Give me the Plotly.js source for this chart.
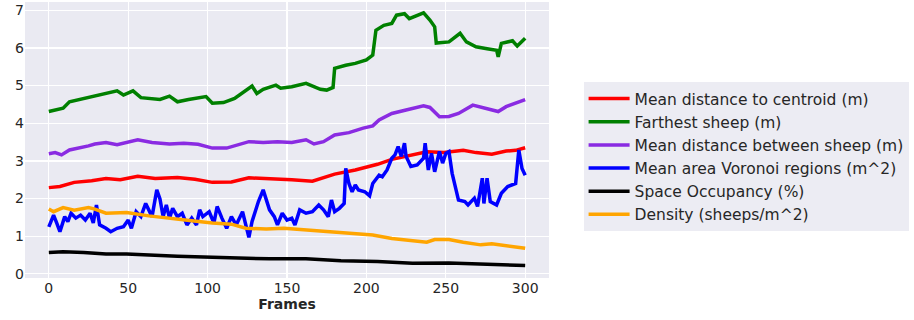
<!DOCTYPE html>
<html>
<head>
<meta charset="utf-8">
<script src="https://cdn.plot.ly/plotly-3.0.1.min.js"></script>
<style>html,body{margin:0;padding:0;background:#fff;}#chart{width:914px;height:320px;}</style>
</head>
<body>
<div id="chart"></div>
<script>
// Series names (legend order)
const seriesNames = [
  "Mean distance to centroid (m)",
  "Farthest sheep (m)",
  "Mean distance between sheep (m)",
  "Mean area Voronoi regions (m^2)",
  "Space Occupancy (%)",
  "Density (sheeps/m^2)"
];
const xTicks = [0, 50, 100, 150, 200, 250, 300];
const yTicks = [0, 1, 2, 3, 4, 5, 6, 7];

// Mean distance to centroid
const framesCentroid = [0,7,16,27,36,45,56,67,81,92,103,115,126,139,153,166,180,193,207,216,227,238,249,261,269,279,288,294,300];
const centroid = [2.29,2.32,2.43,2.47,2.53,2.50,2.59,2.53,2.56,2.51,2.43,2.44,2.55,2.53,2.50,2.46,2.65,2.76,2.91,3.04,3.15,3.24,3.22,3.28,3.22,3.18,3.26,3.28,3.35];

// Farthest sheep
const framesFarthest = [0,9,13,22,29,43,47,53,58,70,76,81,88,94,99,103,110,117,124,128,131,135,143,146,153,162,171,175,179,180,187,193,200,204,206,211,216,219,224,227,236,240,243,244,252,259,263,269,276,282,283,285,292,295,300];
const farthest = [4.31,4.40,4.57,4.66,4.71,4.86,4.75,4.86,4.68,4.63,4.72,4.57,4.63,4.68,4.71,4.53,4.55,4.66,4.88,4.99,4.79,4.90,5.01,4.93,4.97,5.06,4.90,4.88,4.95,5.46,5.54,5.59,5.68,5.81,6.47,6.60,6.65,6.87,6.91,6.78,6.93,6.74,6.56,6.13,6.16,6.39,6.16,6.03,5.98,5.94,5.76,6.12,6.19,6.05,6.26];

// Mean distance between sheep
const framesBetween = [0,4,8,13,25,29,36,43,56,65,76,85,94,103,112,126,135,144,153,162,167,173,180,189,198,204,208,216,225,236,240,246,252,258,267,272,279,283,288,294,300];
const between = [3.19,3.22,3.16,3.29,3.40,3.45,3.49,3.43,3.56,3.49,3.45,3.47,3.44,3.34,3.34,3.51,3.49,3.51,3.49,3.56,3.45,3.51,3.69,3.75,3.87,3.93,4.09,4.26,4.35,4.46,4.42,4.17,4.18,4.26,4.48,4.42,4.35,4.31,4.44,4.53,4.63];

// Mean area Voronoi regions
const framesVoronoi = [0,3,5,7,10,12,14,17,20,23,26,28,30,32,36,39,43,47,50,52,55,58,61,63,65,68,70,72,74,76,78,81,84,87,90,93,95,97,101,104,106,109,112,115,118,122,124,126,128,132,135,137,139,142,144,147,150,153,155,158,162,166,170,173,176,178,180,183,186,187,189,191,193,195,199,202,204,208,210,213,216,218,220,222,224,225,228,232,236,237,239,241,243,246,248,250,252,254,258,262,264,268,270,273,274,276,278,282,285,289,294,296,298,300];
const voronoi = [1.25,1.56,1.35,1.12,1.52,1.39,1.61,1.48,1.56,1.43,1.61,1.35,1.83,1.30,1.21,1.12,1.21,1.25,1.43,1.21,1.65,1.52,1.87,1.70,1.52,2.23,1.99,1.52,1.83,1.48,1.74,1.52,1.61,1.30,1.48,1.30,1.70,1.52,1.65,1.35,1.79,1.48,1.21,1.52,1.30,1.65,1.30,0.97,1.39,1.92,2.23,1.99,1.70,1.52,1.30,1.61,1.43,1.48,1.30,1.70,1.61,1.65,1.83,1.70,1.52,1.96,1.65,1.74,1.87,2.80,2.40,2.18,2.36,2.23,2.18,2.07,2.40,2.62,2.58,2.76,3.07,3.16,3.38,3.12,3.47,3.12,2.85,2.89,3.07,3.47,2.76,3.20,2.71,3.25,2.94,3.20,3.25,2.67,1.96,1.92,1.83,2.01,1.79,2.54,1.87,2.54,1.92,1.83,2.14,2.32,2.40,3.29,2.80,2.62];

// Space occupancy
const framesOccupancy = [0,9,22,36,49,63,81,103,121,139,162,184,207,229,252,274,300];
const occupancy = [0.57,0.59,0.57,0.53,0.53,0.50,0.47,0.44,0.41,0.40,0.40,0.35,0.33,0.28,0.29,0.25,0.22];

// Density
const framesDensity = [0,3,9,16,25,29,36,49,63,76,90,103,115,124,137,148,162,180,193,204,216,227,238,243,252,261,272,279,288,300];
const density = [1.72,1.65,1.76,1.69,1.76,1.72,1.61,1.63,1.54,1.47,1.41,1.35,1.32,1.21,1.19,1.21,1.17,1.10,1.08,1.03,0.94,0.88,0.84,0.91,0.91,0.84,0.77,0.80,0.75,0.68];

const colors = ["#FF0000", "#008000", "#8A2BE2", "#0000FF", "#000000", "#FFA500"];
const xs = [framesCentroid, framesFarthest, framesBetween, framesVoronoi, framesOccupancy, framesDensity];
const ys = [centroid, farthest, between, voronoi, occupancy, density];

const traces = seriesNames.map((name, i) => ({
  type: "scatter",
  mode: "lines",
  x: xs[i],
  y: ys[i],
  name: name,
  line: {color: colors[i], width: 3.5}
}));

const font = "DejaVu Sans, sans-serif";
const layout = {
  width: 914,
  height: 320,
  margin: {l: 25, r: 365, t: 2, b: 42},
  paper_bgcolor: "#FFFFFF",
  plot_bgcolor: "#EAEAF2",
  font: {family: font, size: 14, color: "#262626"},
  showlegend: true,
  legend: {
    x: 1.066, xanchor: "left",
    y: 0.71, yanchor: "top",
    bgcolor: "rgba(234,234,242,0.9)",
    borderwidth: 0,
    font: {family: font, size: 15.5, color: "#262626"},
    itemwidth: 41
  },
  xaxis: {
    range: [-15, 315],
    tickvals: xTicks,
    ticktext: xTicks.map(String),
    showgrid: true, gridcolor: "#FFFFFF", gridwidth: 1.2,
    zeroline: false, showline: false, ticks: "",
    tickfont: {family: font, size: 14, color: "#262626"},
    title: {text: "<b>Frames</b>", font: {family: font, size: 14, color: "#262626"}, standoff: 4}
  },
  yaxis: {
    range: [-0.11, 7.22],
    tickvals: yTicks,
    ticktext: yTicks.map(String),
    showgrid: true, gridcolor: "#FFFFFF", gridwidth: 1.2,
    zeroline: false, showline: false, ticks: "",
    tickfont: {family: font, size: 14, color: "#262626"}
  }
};

Plotly.newPlot("chart", traces, layout, {displayModeBar: false, staticPlot: true});
</script>
</body>
</html>
